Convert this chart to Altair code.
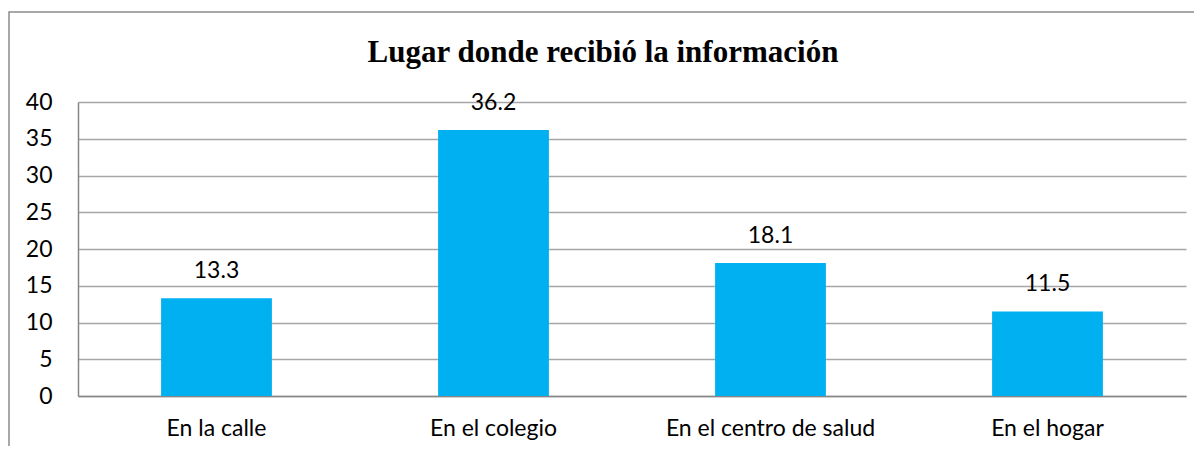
import altair as alt
import pandas as pd

categories = ["En la calle", "En el colegio", "En el centro de salud", "En el hogar"]
values = [13.3, 36.2, 18.1, 11.5]
y_ticks = [0, 5, 10, 15, 20, 25, 30, 35, 40]
title_text = "Lugar donde recibió la información"

df = pd.DataFrame({"lugar": categories, "valor": values})
frame_df = pd.DataFrame({"k": [0]})

W, H = 1108, 294
FONT = "Lato"
FS = 23

x_enc = alt.X("lugar:N", sort=categories,
              scale=alt.Scale(paddingInner=0.6, paddingOuter=0.3),
              axis=alt.Axis(title=None, labelAngle=0, labelFont=FONT, labelFontSize=FS,
                            labelColor="#000000", labelPadding=21, ticks=False, labelLimit=400,
                            domainColor="#868686", domainWidth=1.5))
y_enc = alt.Y("valor:Q", scale=alt.Scale(domain=[0, 40], nice=False),
              axis=alt.Axis(title=None, values=y_ticks, labelFont=FONT, labelFontSize=FS,
                            labelColor="#000000", labelPadding=26, ticks=False,
                            labelOverlap=False,
                            domainColor="#868686", domainWidth=1.5,
                            gridColor="#A6A6A6", gridWidth=1.5))

frame = alt.Chart(frame_df).mark_rect(fill=None, stroke="#8C8C8C", strokeWidth=1.5).encode(
    x=alt.value(-69), x2=alt.value(W + 200), y=alt.value(-90), y2=alt.value(H + 200)
)

base = alt.Chart(df).encode(x=x_enc, y=y_enc)

bars = base.mark_bar(color="#00B0F0")

labels = base.mark_text(font=FONT, fontSize=FS, color="#000000",
                        baseline="alphabetic", dy=-20).encode(
    text=alt.Text("valor:Q", format=".1f"),
)

chart = alt.layer(frame, bars, labels).properties(
    width=W, height=H,
    autosize=alt.AutoSizeParams(type="none"),
    padding={"left": 70, "top": 94, "right": 8, "bottom": 50},
    title=alt.TitleParams(title_text, font="Liberation Serif", fontSize=31, fontWeight="bold",
                          color="#000000", baseline="alphabetic", offset=-82, dx=-29,
                          anchor="middle", frame="group"),
).configure_view(stroke=None)

chart.save("out.html", embed_options={"renderer": "svg", "actions": False})
